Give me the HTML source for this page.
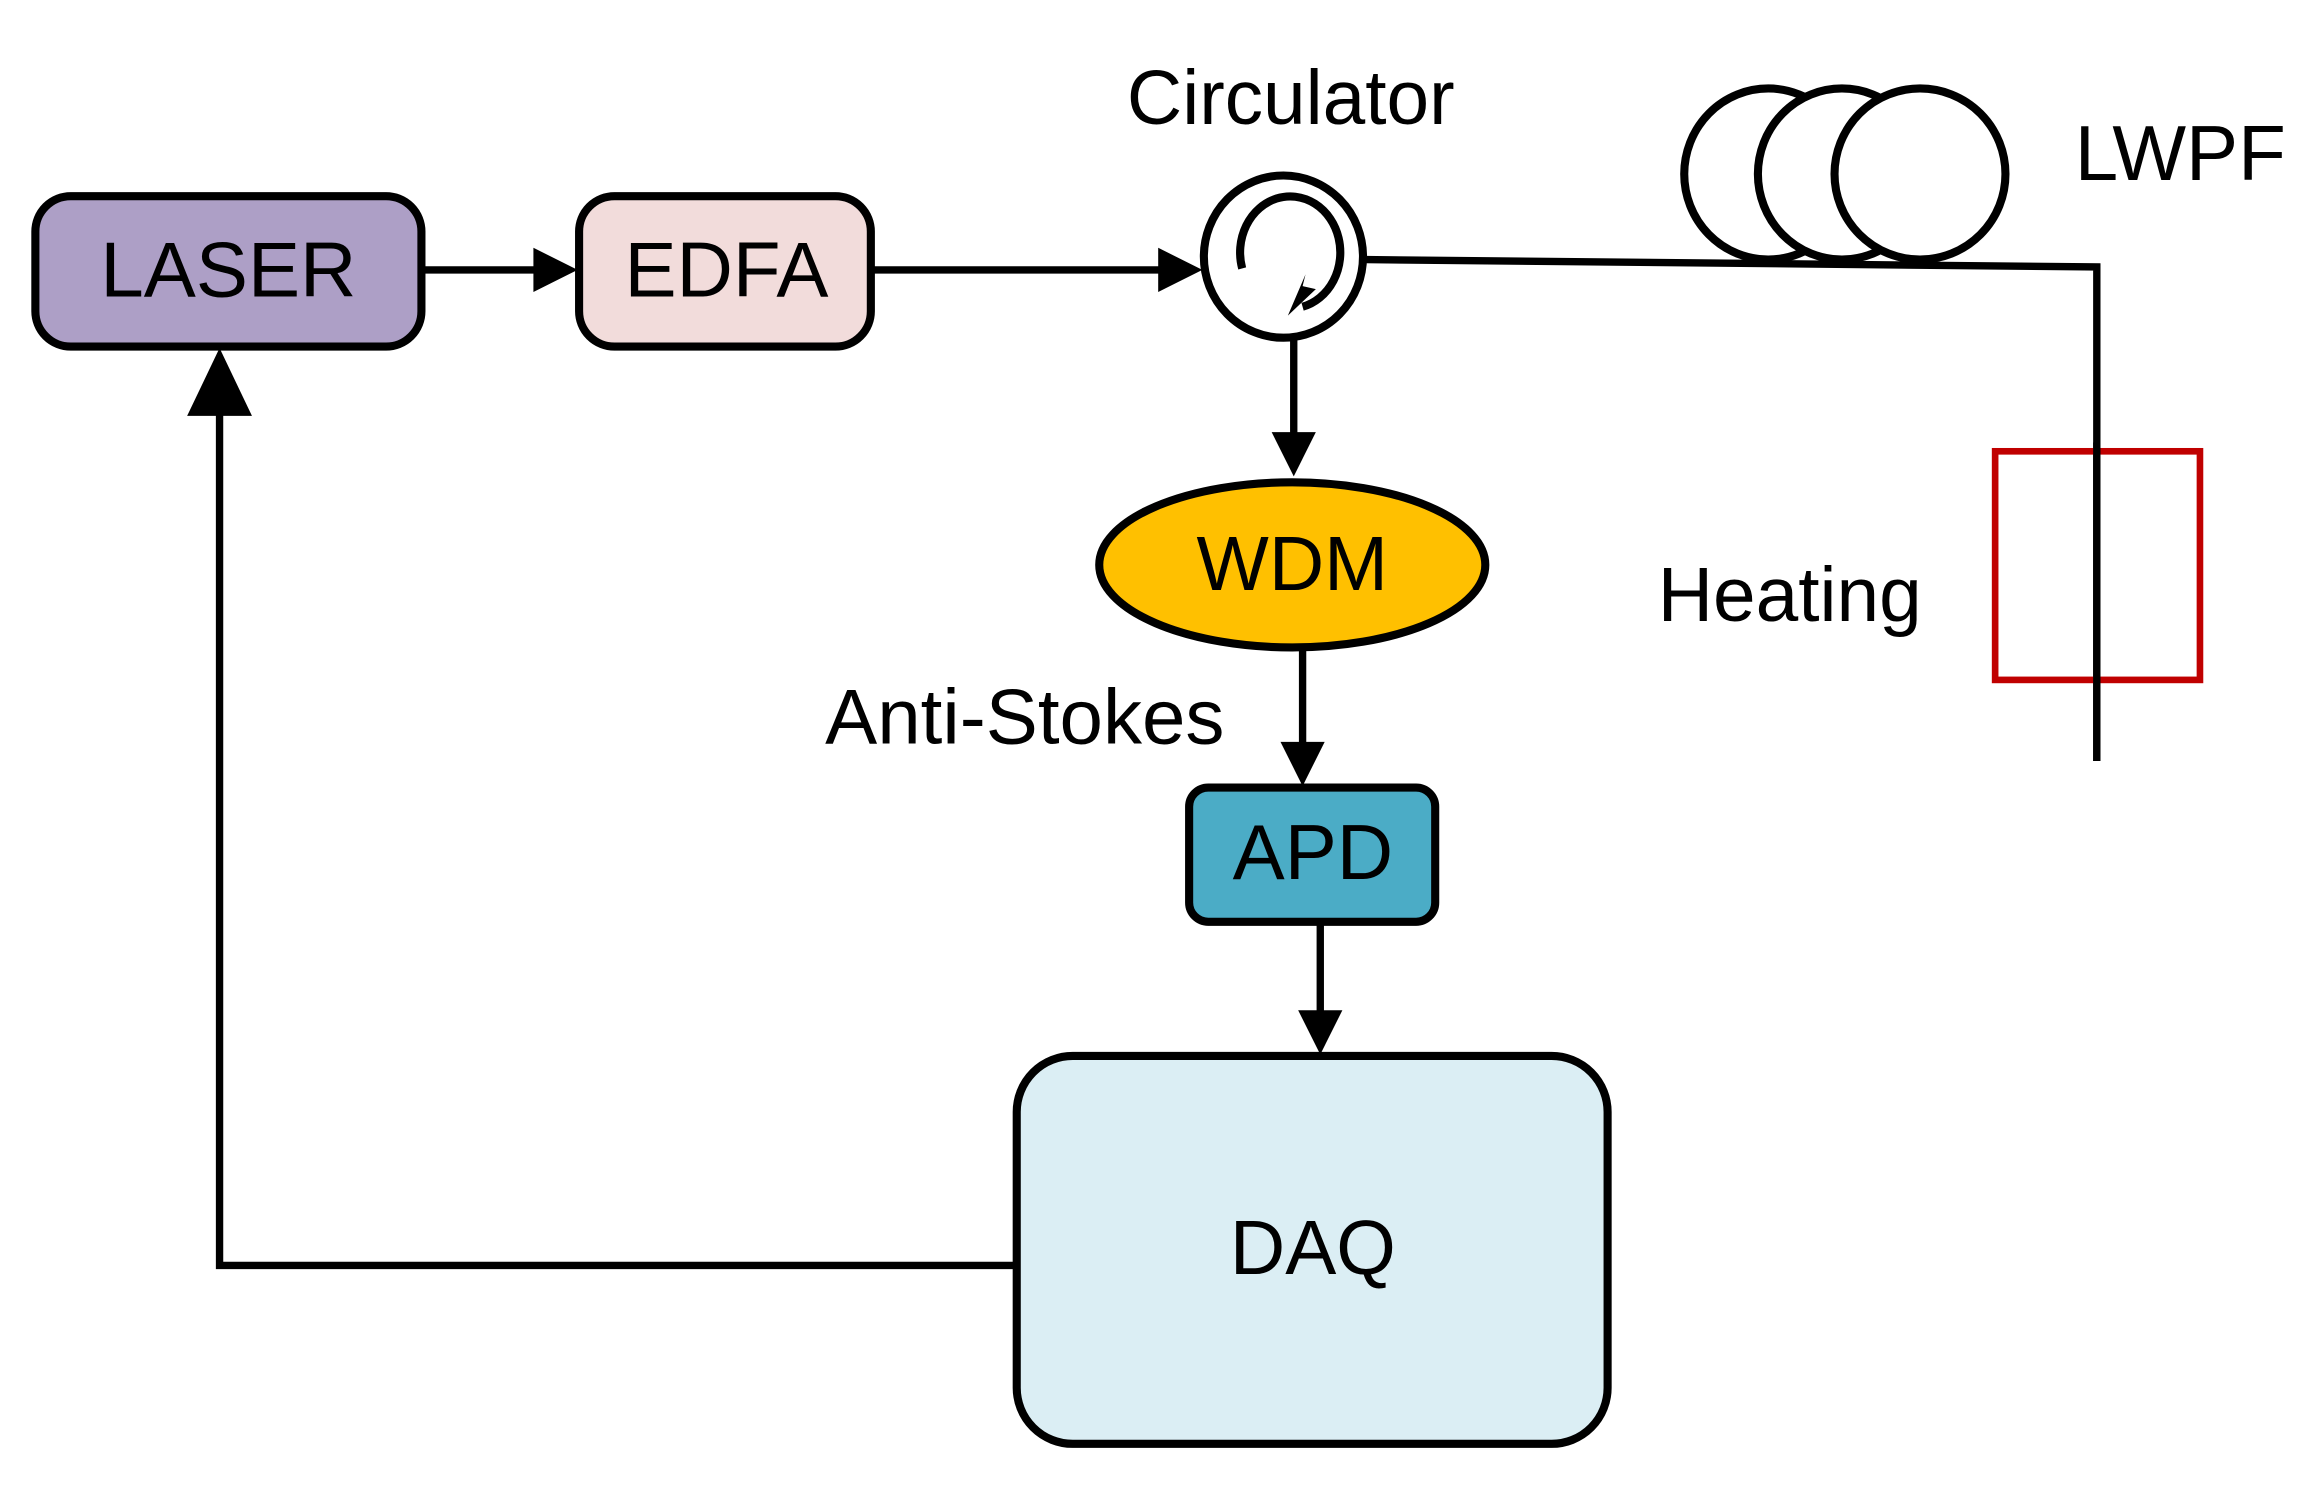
<!DOCTYPE html>
<html><head><meta charset="utf-8"><style>
html,body{margin:0;padding:0;background:#fff;}
svg{display:block;}
text{font-family:"Liberation Sans",Arial,sans-serif;fill:#000;}
</style></head><body>
<svg width="2309" height="1494" viewBox="0 0 1567 1013" preserveAspectRatio="none" xmlns="http://www.w3.org/2000/svg">
<rect x="24" y="133" width="262" height="102" rx="24" fill="#ad9fc6" stroke="#000" stroke-width="5.5"/>
<text x="155" y="201" font-size="53" text-anchor="middle">LASER</text>
<rect x="393" y="133" width="198" height="102" rx="24" fill="#f2dcdb" stroke="#000" stroke-width="5.5"/>
<text x="493" y="201" font-size="53" text-anchor="middle">EDFA</text>
<line x1="287" y1="183" x2="366" y2="183" stroke="#000" stroke-width="5"/>
<polygon points="362,168 392,183 362,198" fill="#000"/>
<line x1="592" y1="183" x2="790" y2="183" stroke="#000" stroke-width="5"/>
<polygon points="786,168 816,183 786,198" fill="#000"/>
<text x="876" y="84" font-size="52" text-anchor="middle">Circulator</text>
<ellipse cx="871" cy="174" rx="54" ry="55" fill="#fff" stroke="#000" stroke-width="5.5"/>
<path d="M843,182 A34,38 0 1 1 884,208" fill="none" stroke="#000" stroke-width="5.5"/>
<polygon points="874,214 893,196 884,194 886,186" fill="#000"/>
<polyline points="927,176 1423,181 1423,516" fill="none" stroke="#000" stroke-width="5"/>
<ellipse cx="1200" cy="118" rx="57" ry="58" fill="#fff" stroke="#000" stroke-width="5.5"/>
<ellipse cx="1250" cy="118" rx="57" ry="58" fill="#fff" stroke="#000" stroke-width="5.5"/>
<ellipse cx="1303" cy="118" rx="58" ry="58" fill="#fff" stroke="#000" stroke-width="5.5"/>
<text x="1408" y="122" font-size="53">LWPF</text>
<rect x="1354" y="306" width="139" height="155" fill="none" stroke="#c00000" stroke-width="4.5"/>
<line x1="1423" y1="300" x2="1423" y2="516" stroke="#000" stroke-width="5"/>
<text x="1125" y="421" font-size="52">Heating</text>
<line x1="878" y1="229" x2="878" y2="298" stroke="#000" stroke-width="5"/>
<polygon points="863,293 878,323 893,293" fill="#000"/>
<ellipse cx="877" cy="383" rx="131" ry="56" fill="#ffc000" stroke="#000" stroke-width="5.5"/>
<text x="877" y="400" font-size="52" text-anchor="middle">WDM</text>
<line x1="884" y1="440" x2="884" y2="508" stroke="#000" stroke-width="5"/>
<polygon points="869,503 884,533 899,503" fill="#000"/>
<text x="560" y="504" font-size="53">Anti-Stokes</text>
<rect x="807" y="534" width="167" height="91" rx="13" fill="#4bacc6" stroke="#000" stroke-width="5.5"/>
<text x="891" y="596" font-size="53" text-anchor="middle">APD</text>
<line x1="896" y1="626" x2="896" y2="690" stroke="#000" stroke-width="5"/>
<polygon points="881,685 896,715 911,685" fill="#000"/>
<rect x="690" y="716" width="401" height="263" rx="38" fill="#dbeef4" stroke="#000" stroke-width="5.5"/>
<text x="891" y="864" font-size="52" text-anchor="middle">DAQ</text>
<polyline points="690,858 149,858 149,270" fill="none" stroke="#000" stroke-width="5"/>
<polygon points="127,282 149,236 171,282" fill="#000"/>
</svg>
</body></html>
